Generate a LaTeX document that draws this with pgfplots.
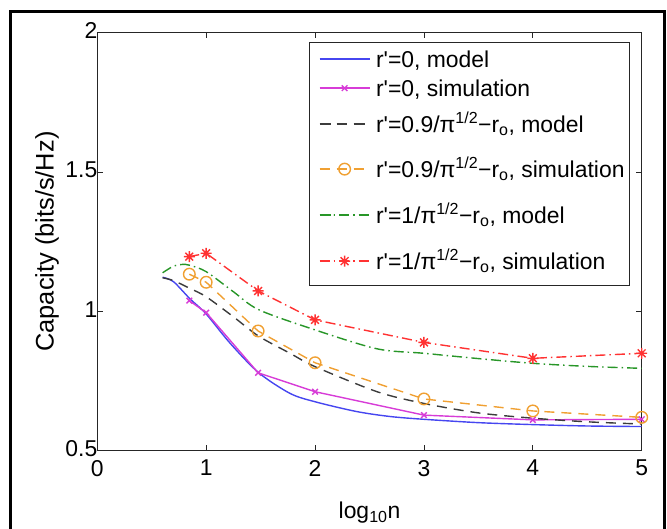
\documentclass[border=0pt]{standalone}
\usepackage{fontspec}
\setmainfont{Liberation Sans}
\usepackage{pgfplots}
\pgfplotsset{compat=1.18}
\definecolor{cblue}{RGB}{70,70,240}
\definecolor{cmag}{RGB}{215,60,215}
\definecolor{cgray}{RGB}{60,60,60}
\definecolor{corange}{RGB}{240,160,50}
\definecolor{cgreen}{RGB}{40,150,40}
\definecolor{cred}{RGB}{255,50,50}
\pgfdeclareplotmark{mstar}{%
 \pgfpathmoveto{\pgfqpoint{-\pgfplotmarksize}{0pt}}\pgfpathlineto{\pgfqpoint{\pgfplotmarksize}{0pt}}%
 \pgfpathmoveto{\pgfqpoint{0pt}{-\pgfplotmarksize}}\pgfpathlineto{\pgfqpoint{0pt}{\pgfplotmarksize}}%
 \pgfpathmoveto{\pgfqpoint{-0.707\pgfplotmarksize}{-0.707\pgfplotmarksize}}\pgfpathlineto{\pgfqpoint{0.707\pgfplotmarksize}{0.707\pgfplotmarksize}}%
 \pgfpathmoveto{\pgfqpoint{-0.707\pgfplotmarksize}{0.707\pgfplotmarksize}}\pgfpathlineto{\pgfqpoint{0.707\pgfplotmarksize}{-0.707\pgfplotmarksize}}%
 \pgfusepathqstroke}
\newcommand{\rp}{r\textquotesingle}
\pgfplotsset{lh/.style 2 args={legend image code/.code={\path[draw=none,fill=none] (0bp,-#2bp) -- (0bp,#1bp); \draw[mark repeat=2,mark phase=2] plot coordinates {(4.7bp,8bp) (29.7bp,8bp) (54.7bp,8bp)};}}}
\begin{document}
\begin{tikzpicture}
\useasboundingbox (0bp,0bp) rectangle (667bp,529bp);
\draw[line width=3bp] (10bp,0bp) -- (10bp,517bp) -- (664bp,517bp) -- (664bp,0bp);
\begin{axis}[
  at={(97.3bp,78.5bp)}, anchor=south west,
  scale only axis, width=544.4bp, height=417.8bp,
  xmin=0, xmax=5, ymin=0.5, ymax=2,
  xtick={0,1,2,3,4,5}, ytick={0.5,1,1.5,2},
  /pgf/number format/assume math mode=true,
  tick label style={font=\fontsize{23}{23}\selectfont},
  label style={font=\fontsize{23}{27}\selectfont},
  tick align=inside, major tick length=5.5bp,
  axis line style={line width=1bp, black!85},
  every tick/.style={black!85, line width=0.8bp},
  xticklabel style={yshift=-6bp},
  yticklabel style={xshift=3.5bp, yshift=2bp},
  xlabel={log\textsubscript{10}n},
  ylabel={Capacity (bits/s/Hz)},
  xlabel style={at={(axis description cs:0.5,0)}, anchor=north, yshift=-48bp},
  ylabel style={at={(axis description cs:-0.0924,0.5)}, anchor=center, font=\fontsize{25.5}{29}\selectfont},
  legend cell align=left,
  legend style={at={(0.9785,0.9785)}, anchor=north east, draw=black!85, line width=0.9bp,
    font=\fontsize{23}{26}\selectfont, inner xsep=5bp, inner ysep=2bp,
    nodes={inner sep=0pt, anchor=base west}, column sep=5.7bp, row sep=0pt},
]
\addplot[cblue, line width=1.4bp, smooth, no marks, lh={23}{8}] coordinates {
 (0.60,1.122) (0.70,1.106) (0.85,1.045) (1.0,0.99) (1.22,0.885) (1.48,0.78)
 (1.77,0.705) (2.0,0.675) (2.38,0.64) (2.69,0.622) (3,0.612) (3.5,0.60)
 (4,0.593) (4.5,0.588) (5,0.586)};
\addlegendentry{\rp=0, model}
\addplot[cmag, line width=1.4bp, mark=x, mark size=4bp, lh={21}{8}] coordinates {
 (0.845,1.038) (1,0.995) (1.477,0.779) (2,0.711) (3,0.627) (4,0.610) (5,0.612)};
\addlegendentry{\rp=0, simulation}
\addplot[cgray, line width=1.4bp, smooth, no marks, dash pattern=on 10bp off 7bp, lh={28}{12}] coordinates {
 (0.60,1.12) (0.70,1.11) (0.85,1.082) (1.0,1.052) (1.25,0.98) (1.48,0.911)
 (1.77,0.849) (2,0.801) (2.57,0.711) (3,0.669) (3.5,0.635) (4,0.616)
 (4.5,0.603) (5,0.595)};
\addlegendentry{\rp=0.9/π\textsuperscript{1/2}−r\textsubscript{o}, model}
\addplot[corange, line width=1.4bp, mark=o, mark size=5.8bp, dash pattern=on 10bp off 7bp,
  mark options={solid}, lh={33}{14}] coordinates {
 (0.845,1.133) (1,1.104) (1.477,0.929) (2,0.815) (3,0.685) (4,0.642) (5,0.619)};
\addlegendentry{\rp=0.9/π\textsuperscript{1/2}−r\textsubscript{o}, simulation}
\addplot[cgreen, line width=1.4bp, smooth, no marks, dash pattern=on 10bp off 4bp on 1.5bp off 4bp, lh={32}{14}] coordinates {
 (0.60,1.138) (0.70,1.162) (0.78,1.168) (0.85,1.165) (1.0,1.142) (1.25,1.07)
 (1.485,1.005) (2,0.933) (2.57,0.865) (3,0.849) (3.5,0.83) (4,0.813)
 (4.5,0.802) (5,0.795)};
\addlegendentry{\rp=1/π\textsuperscript{1/2}−r\textsubscript{o}, model}
\addplot[cred, line width=1.4bp, mark=mstar, mark size=5.5bp, dash pattern=on 10bp off 4bp on 1.5bp off 4bp,
  mark options={solid}, lh={32}{14.5}] coordinates {
 (0.845,1.196) (1,1.208) (1.477,1.073) (2,0.969) (3,0.888) (4,0.831) (5,0.849)};
\addlegendentry{\rp=1/π\textsuperscript{1/2}−r\textsubscript{o}, simulation}
\end{axis}
\end{tikzpicture}
\end{document}
